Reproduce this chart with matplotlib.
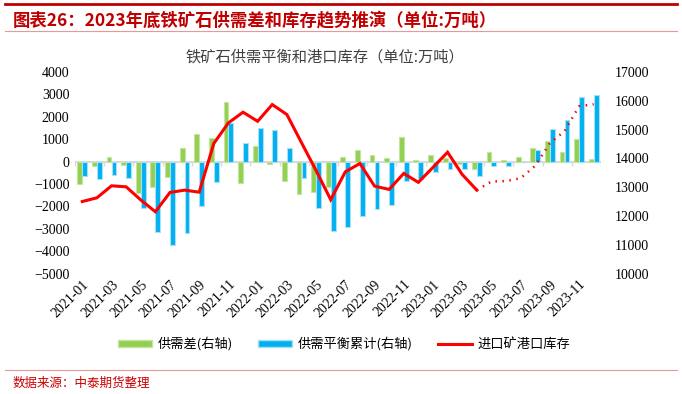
import numpy as np
import matplotlib
matplotlib.use("Agg")
from matplotlib import pyplot as plt
from matplotlib.lines import Line2D
from matplotlib.patches import Patch

# months 2021-01 .. 2023-12
months = [f"{y}-{m:02d}" for y in (2021, 2022, 2023) for m in range(1, 13)]

# 供需差 (left axis)
gap = [-990, -210, 200, -150, -1400, -1130, -670, 600, 1220, 1070, 2680, -960,
       700, -110, -855, -1430, -1360, -1120, 220, 500, 310, 180, 1120, 90,
       300, 180, -100, -320, 440, 55, 195, 605, 915, 440, 1030, 140]

# 供需平衡累计 (left axis)
cum = [-640, -770, -610, -730, -2050, -3140, -3730, -3170, -1960, -910, 1740, 810,
       1490, 1410, 610, -745, -2055, -3110, -2900, -2410, -2115, -1945, -845, -785,
       -475, -315, -340, -627, -208, -188, 0, 520, 1445, 1860, 2865, 2990]

# 进口矿港口库存 (right axis); last months are projection (dotted)
stock = [12505, 12634, 13050, 13015, 12560, 12150, 12820, 12900, 12830, 14520, 15235, 15605,
         15290, 15870, 15525, 14550, 13580, 12570, 13535, 13825, 13040, 12925, 13480, 13170,
         13690, 14215, 13445, 12900, 13200, 13215, 13315, 13745, 14530, 14945, 15810, 15880]
n_actual = 28  # 2021-01 .. 2023-04 solid

GREEN = "#92D050"
BLUE = "#00B0F0"
RED = "#FF0000"
CJK = ["Noto Sans CJK SC", "DejaVu Sans"]

plt.rcParams["font.family"] = ["Liberation Serif", "Noto Sans CJK SC"]

fig = plt.figure(figsize=(6.82, 3.94), dpi=100)
ax = fig.add_axes([75 / 682, 1 - 273.7 / 394, 526 / 682, 201.7 / 394])
ax2 = ax.twinx()

x = np.arange(len(months))
w = 0.33
ax.bar(x - 0.17, gap, w, color=GREEN, edgecolor="#C5E3A5", linewidth=0.8, zorder=2)
ax.bar(x + 0.17, cum, w, color=BLUE, edgecolor="#A8E0F5", linewidth=0.8, zorder=2)
ax.axhline(0, color="#D9D9D9", lw=1.5, zorder=1)
ax.vlines(np.arange(-0.5, len(months), 2), -180, 0, color="#D9D9D9", lw=1, zorder=1)

ax2.plot(x[:n_actual], stock[:n_actual], color=RED, lw=2.2, solid_joinstyle="miter")
ax2.plot(x[n_actual - 1:], stock[n_actual - 1:], color=RED, lw=1.8,
         linestyle=(0, (0.6, 2.2)))

ax.set_xlim(-0.5, len(months) - 0.5)
ax.set_ylim(-5000, 4000)
ax.set_yticks(np.arange(-5000, 4001, 1000))
ax2.set_ylim(10000, 17000)
ax2.set_yticks(np.arange(10000, 17001, 1000))

ax.set_xticks(x[::2])
ax.set_xticklabels(months[::2], rotation=45, ha="right", rotation_mode="anchor")
ax.tick_params(axis="x", length=0, pad=3, labelsize=10)
ax.tick_params(axis="y", length=0, pad=4, labelsize=10)
ax2.tick_params(axis="y", length=0, pad=10, labelsize=10)
for a in (ax, ax2):
    for s in a.spines.values():
        s.set_visible(False)

# titles
fig.text(13 / 682, 1 - 20 / 394, "图表26：2023年底铁矿石供需差和库存趋势推演（单位:万吨）",
         family=CJK, fontsize=12.5, weight="bold", color="#C00000", va="center")
fig.text(325 / 682, 1 - 57 / 394, "铁矿石供需平衡和港口库存（单位:万吨）",
         family=CJK, fontsize=11, color="#404040", ha="center", va="center")
fig.text(13 / 682, 1 - 383 / 394, "数据来源：中泰期货整理",
         family=CJK, fontsize=9, color="#CC0000", va="center")

# header / footer rules
fig.add_artist(Line2D([5 / 682, 677 / 682], [1 - 3.5 / 394] * 2, transform=fig.transFigure,
                      color="#C00000", lw=2))
fig.add_artist(Line2D([5 / 682, 677 / 682], [1 - 31 / 394] * 2, transform=fig.transFigure,
                      color="#E59A9A", lw=0.8))
fig.add_artist(Line2D([5 / 682, 677 / 682], [1 - 370 / 394] * 2, transform=fig.transFigure,
                      color="#E59A9A", lw=0.8))

handles = [Patch(facecolor=GREEN, edgecolor="#C5E3A5"),
           Patch(facecolor=BLUE, edgecolor="#A8E0F5"),
           Line2D([], [], color=RED, lw=2.2)]
labels = ["供需差(右轴)", "供需平衡累计(右轴)", "进口矿港口库存"]
fig.legend(handles, labels, loc="center", bbox_to_anchor=(344 / 682, 1 - 344 / 394),
           ncol=3, frameon=False, handlelength=2.6, handleheight=0.45,
           columnspacing=1.9, handletextpad=0.4, prop={"family": CJK, "size": 9.5})

fig.savefig("out.png", dpi=100)
